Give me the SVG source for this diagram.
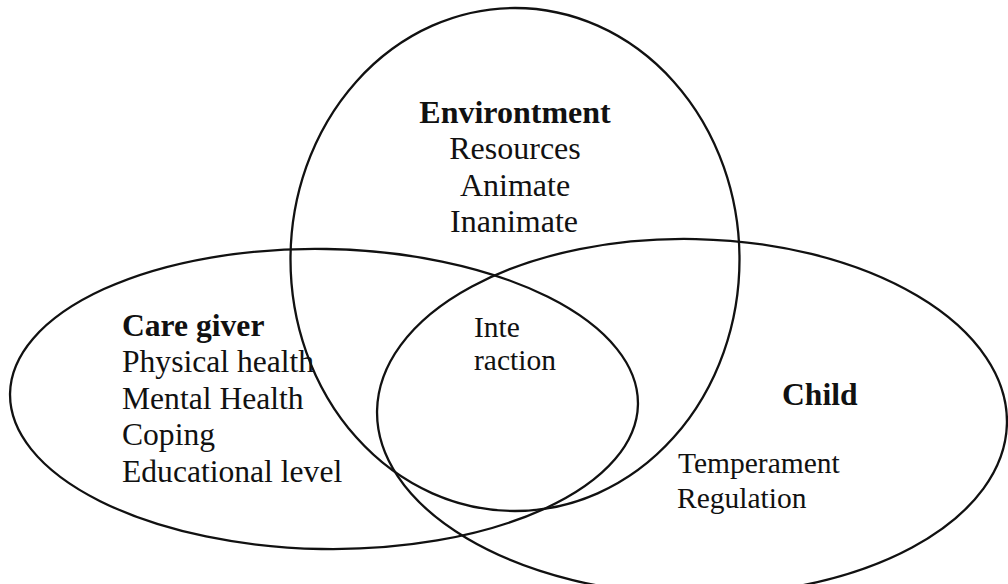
<svg xmlns="http://www.w3.org/2000/svg" width="1008" height="584" viewBox="0 0 1008 584">
<style>
.shape{fill:none;stroke:#111;stroke-width:2.3}
.t{font-family:"Liberation Serif","Times New Roman",serif;fill:#111}
.b{font-weight:bold}
.s32{font-size:32px}
.s31{font-size:31.6px}
.s29{font-size:29.5px}
.mid{text-anchor:middle}
</style>
<rect width="1008" height="584" fill="#fff"/>
<g id="environment">
<ellipse class="shape" cx="515" cy="259.5" rx="224.5" ry="251.5"/>
<text class="t s32 b mid" x="515" y="123">Environtment</text>
<text class="t s32 mid" x="515" y="159">Resources</text>
<text class="t s32 mid" x="515" y="196">Animate</text>
<text class="t s32 mid" x="514" y="232">Inanimate</text>
</g>
<g id="caregiver">
<ellipse class="shape" cx="324" cy="399" rx="314" ry="150" transform="rotate(1 324 399)"/>
<text class="t s31 b" x="122" y="336">Care giver</text>
<text class="t s31" x="122" y="372">Physical health</text>
<text class="t s31" x="122" y="408.5">Mental Health</text>
<text class="t s31" x="122" y="445">Coping</text>
<text class="t s31" x="122" y="481.5">Educational level</text>
</g>
<g id="child">
<ellipse class="shape" cx="692" cy="417" rx="315" ry="178" transform="rotate(1.2 692 417)"/>
<text class="t s31 b" x="782" y="405">Child</text>
<text class="t s29" x="678" y="473">Temperament</text>
<text class="t s29" x="677" y="508">Regulation</text>
</g>
<g id="interaction">
<text class="t s29" x="474" y="337">Inte</text>
<text class="t s29" x="474" y="370">raction</text>
</g>
<g id="connectors"></g>
</svg>
